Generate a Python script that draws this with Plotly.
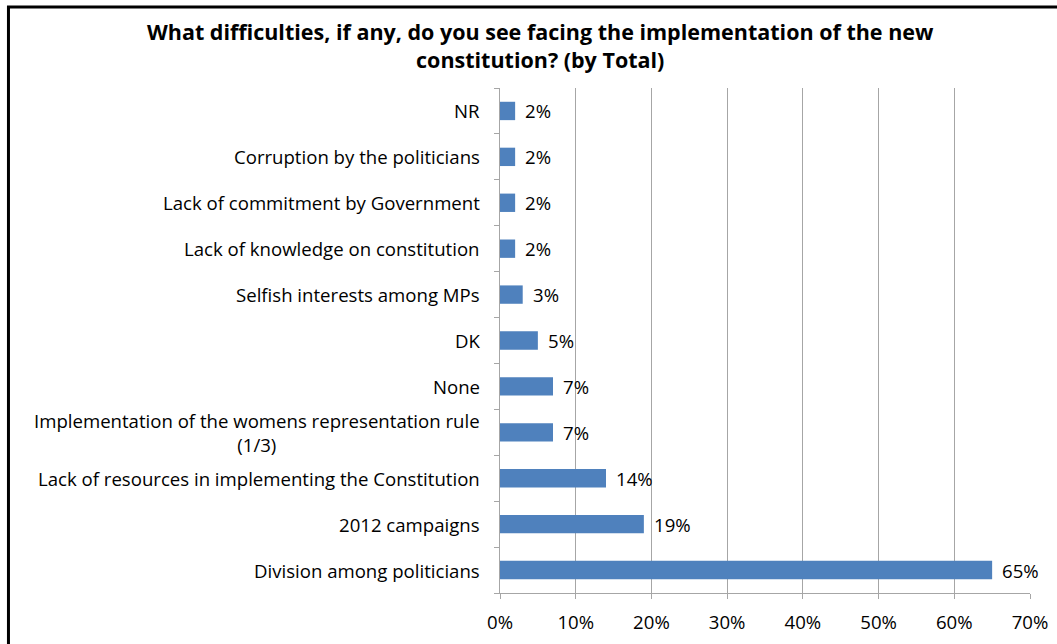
import plotly.graph_objects as go

# Survey responses, listed bottom-to-top as drawn on the category axis
categories = [
    "Division among politicians",
    "2012 campaigns",
    "Lack of resources in implementing the Constitution",
    "Implementation of the womens representation rule<br>(1/3)",
    "None",
    "DK",
    "Selfish interests among MPs",
    "Lack of knowledge on constitution",
    "Lack of commitment by Government",
    "Corruption by the politicians",
    "NR",
]
shares = [65, 19, 14, 7, 7, 5, 3, 2, 2, 2, 2]
x_ticks = [0, 10, 20, 30, 40, 50, 60, 70]
x_tick_labels = [f"{v}%" for v in x_ticks]

title_text = ("What difficulties, if any, do you see facing the implementation of the new"
              "<br>constitution? (by Total)")

FONT = "Open Sans"
GRID = "#a6a6a6"
LABEL_SIZE = 18.6
PLOT_H = 505  # plot-area height in pixels

fig = go.Figure()
fig.add_trace(go.Bar(
    x=shares,
    y=categories,
    orientation="h",
    marker=dict(color="#4f81bd", line=dict(width=0)),
    width=0.4,
    hoverinfo="skip",
))

# Category names drawn as centred multi-line text to the left of the axis
for cat in categories:
    fig.add_annotation(
        x=0, xref="paper", y=cat, yref="y",
        text=cat, showarrow=False, xanchor="right", align="center",
        xshift=-18,
        font=dict(family=FONT, size=LABEL_SIZE, color="#000000"),
    )

# Value labels just past the end of each bar
for cat, v in zip(categories, shares):
    fig.add_annotation(
        x=v, xref="x", y=cat, yref="y",
        text=f"{v}%", showarrow=False, xanchor="left",
        xshift=8,
        font=dict(family=FONT, size=LABEL_SIZE, color="#000000"),
    )

# Chart title, two centred lines above the plot area
fig.add_annotation(
    x=0.0755, xref="paper", y=1 + 42 / PLOT_H, yref="paper",
    text=title_text, showarrow=False, xanchor="center", yanchor="middle",
    align="center",
    font=dict(family=FONT, size=21.5, color="#000000", weight="bold"),
)

# Chart frame (right and bottom edges fall outside the page)
fig.add_shape(type="rect", xref="paper", yref="paper",
              x0=-492 / 530.5, x1=1.2, y0=-0.3, y1=1 + 81 / PLOT_H,
              line=dict(color="#000000", width=3), fillcolor="rgba(0,0,0,0)")

fig.update_layout(
    width=1057, height=644,
    margin=dict(l=500, r=26.5, t=88, b=51, autoexpand=False),
    paper_bgcolor="white", plot_bgcolor="white",
    showlegend=False,
    bargap=0.6,
    xaxis=dict(
        range=[0, 70], tickvals=x_ticks, ticktext=x_tick_labels,
        showgrid=True, gridcolor=GRID, gridwidth=1,
        showline=True, linecolor=GRID, linewidth=1,
        ticks="outside", ticklen=5, tickcolor=GRID,
        ticklabelstandoff=8, automargin=False,
        tickfont=dict(family=FONT, size=LABEL_SIZE, color="#000000"),
        zeroline=False, fixedrange=True,
    ),
    yaxis=dict(
        categoryorder="array", categoryarray=categories,
        showticklabels=False, automargin=False,
        showline=True, linecolor=GRID, linewidth=1,
        ticks="outside", ticklen=5, tickcolor=GRID, tickson="boundaries",
        showgrid=False, fixedrange=True,
    ),
)

fig.write_html("out.html")
